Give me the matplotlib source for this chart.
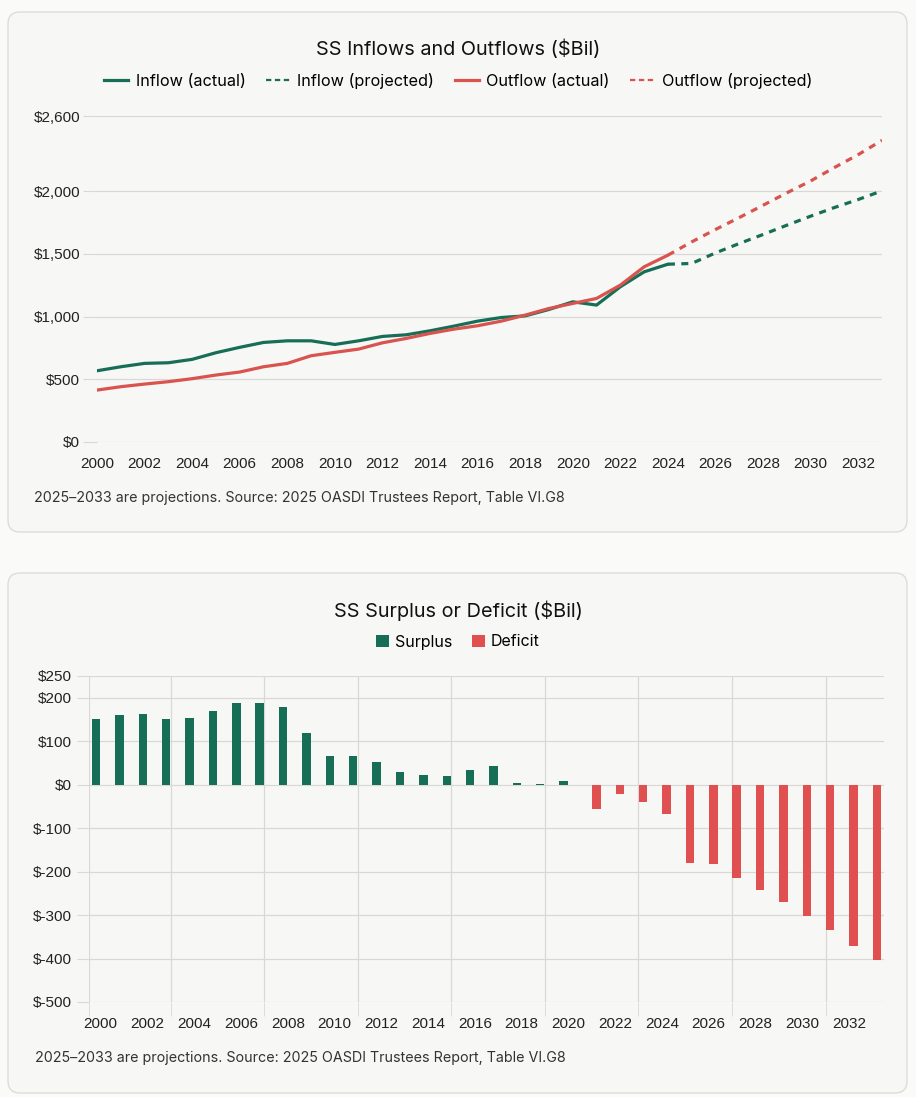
import numpy as np
import matplotlib
matplotlib.use("Agg")
import matplotlib.pyplot as plt
from matplotlib.patches import FancyBboxPatch, Patch
from matplotlib.lines import Line2D
from matplotlib.transforms import IdentityTransform
from matplotlib.ticker import FuncFormatter

# ---- data (in $ billions) ----
years_actual = list(range(2000, 2025))
inflow_actual = [568, 600, 627, 632, 659, 712, 755, 794, 807, 807, 778, 807, 842,
                 855, 887, 924, 964, 993, 1006, 1057, 1118, 1092, 1238, 1357, 1418]
outflow_actual = [414, 441, 462, 481, 505, 534, 558, 600, 627, 688, 715, 741, 791,
                  826, 866, 900, 927, 964, 1012, 1065, 1105, 1145, 1251, 1397, 1490]

years_proj = list(range(2024, 2034))
inflow_proj = [1418, 1424, 1508, 1583, 1655, 1729, 1801, 1870, 1934, 2003]
outflow_proj = [1490, 1596, 1695, 1790, 1888, 1987, 2082, 2189, 2292, 2406]

bar_years = list(range(2000, 2034))
surplus = [151, 160, 163, 151, 154, 170, 187, 187, 178, 120, 66, 66, 51, 30, 23, 21,
           34, 43, 3, 2, 9] + [None] * 13
deficit = [None] * 21 + [-56, -22, -41, -67, -180, -183, -215, -242, -269, -302,
                         -335, -372, -404]

line_yticks = [0, 500, 1000, 1500, 2000, 2600]
bar_yticks = [-500, -400, -300, -200, -100, 0, 100, 200, 250]
footnote = "2025\u20132033 are projections. Source: 2025 OASDI Trustees Report, Table VI.G8"

# ---- style ----
GREEN = "#176e56"
RED = "#e05050"
RED_LINE = "#d9534f"
GRID = "#d8d8d6"
CARD = "#f7f7f5"
PAGE = "#fafaf9"
TXT = "#222222"
TICK_SIZE = 11

W, H = 916, 1097
plt.rcParams["font.family"] = ["Liberation Sans", "DejaVu Sans"]
fig = plt.figure(figsize=(W / 100, H / 100), dpi=100, facecolor=PAGE)


def rect(left, top, right, bottom):
    return [left / W, 1 - bottom / H, (right - left) / W, (bottom - top) / H]


def card(left, top, right, bottom):
    p = FancyBboxPatch((left, H - bottom), right - left, bottom - top,
                       boxstyle="round,pad=0,rounding_size=12",
                       transform=IdentityTransform(), facecolor=CARD,
                       edgecolor="#dcdcda", linewidth=1.0, zorder=-5)
    fig.patches.append(p)


def money(v, pos=None):
    if v < 0:
        return "$-{:,.0f}".format(-v)
    return "${:,.0f}".format(v)


card(8, 12, 907, 532)
card(8, 573, 907, 1093)

ui = ["Inter", "DejaVu Sans"]

# ---- top chart: inflows / outflows ----
ax1 = fig.add_axes(rect(97, 116, 882, 442))
ax1.set_facecolor(CARD)
ax1.plot(years_actual, inflow_actual, color=GREEN, lw=2.3, solid_capstyle="round")
ax1.plot(years_proj, inflow_proj, color=GREEN, lw=2.3, ls=(0, (2.2, 2.0)))
ax1.plot(years_actual, outflow_actual, color=RED_LINE, lw=2.3, solid_capstyle="round")
ax1.plot(years_proj, outflow_proj, color=RED_LINE, lw=2.3, ls=(0, (2.2, 2.0)))

ax1.set_xlim(2000, 2033)
ax1.set_ylim(0, 2600)
ax1.set_yticks(line_yticks)
ax1.yaxis.set_major_formatter(FuncFormatter(money))
ax1.set_xticks(range(2000, 2033, 2))
ax1.set_xticks(range(2000, 2033, 4), minor=True)
ax1.tick_params(axis="x", which="major", length=0, pad=11, labelsize=TICK_SIZE, labelcolor=TXT)
ax1.tick_params(axis="x", which="minor", length=0)
ax1.tick_params(axis="y", length=10, color=GRID, pad=2, labelsize=TICK_SIZE, labelcolor=TXT)
ax1.grid(axis="y", color=GRID, lw=0.9)
ax1.grid(axis="x", which="minor", color=GRID, lw=0.9)
for s in ax1.spines.values():
    s.set_visible(False)

fig.text(458 / W, 1 - 49 / H, "SS Inflows and Outflows ($Bil)", ha="center", va="center",
         fontsize=14.3, color="#111111", family=ui)
h1 = [Line2D([], [], color=GREEN, lw=2.3),
      Line2D([], [], color=GREEN, lw=1.6, ls=(0, (2.4, 1.6))),
      Line2D([], [], color=RED_LINE, lw=2.3),
      Line2D([], [], color=RED_LINE, lw=1.6, ls=(0, (2.4, 1.6)))]
fig.legend(h1, ["Inflow (actual)", "Inflow (projected)", "Outflow (actual)", "Outflow (projected)"],
           loc="center", bbox_to_anchor=(458 / W, 1 - 81 / H), ncol=4, frameon=False,
           handlelength=1.5, handletextpad=0.45, columnspacing=1.25,
           prop={"family": ui, "size": 11.7})
fig.text(34 / W, 1 - 498 / H, footnote, ha="left", va="center", fontsize=10.3,
         color="#333333", family=ui)

# ---- bottom chart: surplus / deficit ----
ax2 = fig.add_axes(rect(89, 676, 884, 1002))
ax2.set_facecolor(CARD)
x = np.arange(len(bar_years))
s_vals = np.array([np.nan if v is None else v for v in surplus], dtype=float)
d_vals = np.array([np.nan if v is None else v for v in deficit], dtype=float)
ax2.bar(x - 0.2, s_vals, width=0.36, color=GREEN, zorder=3)
ax2.bar(x + 0.2, d_vals, width=0.36, color=RED, zorder=3)

ax2.set_xlim(-0.5, len(bar_years) - 0.5)
ax2.set_ylim(-500, 250)
ax2.set_yticks(bar_yticks)
ax2.yaxis.set_major_formatter(FuncFormatter(money))
ax2.set_xticks(x[::2])
ax2.set_xticklabels([str(y) for y in bar_years[::2]])
ax2.set_xticks([-0.5] + list(range(3, 34, 4)), minor=True)
ax2.tick_params(axis="x", which="major", length=0, pad=11, labelsize=TICK_SIZE, labelcolor=TXT)
ax2.tick_params(axis="x", which="minor", length=10, color=GRID)
ax2.tick_params(axis="y", length=9, color=GRID, pad=3, labelsize=TICK_SIZE, labelcolor=TXT)
ax2.grid(axis="y", color=GRID, lw=0.9, zorder=0)
ax2.grid(axis="x", which="minor", color=GRID, lw=0.9, zorder=0)
ax2.set_axisbelow(True)
for s in ax2.spines.values():
    s.set_visible(False)

fig.text(458 / W, 1 - 611 / H, "SS Surplus or Deficit ($Bil)", ha="center", va="center",
         fontsize=14.3, color="#111111", family=ui)
h2 = [Patch(facecolor=GREEN), Patch(facecolor=RED)]
fig.legend(h2, ["Surplus", "Deficit"], loc="center", bbox_to_anchor=(458 / W, 1 - 642 / H),
           ncol=2, frameon=False, handlelength=0.8, handleheight=0.8, handletextpad=0.4,
           columnspacing=1.2, prop={"family": ui, "size": 11.5})
fig.text(35 / W, 1 - 1058 / H, footnote, ha="left", va="center", fontsize=10.3,
         color="#333333", family=ui)

fig.savefig("out.png", dpi=100, facecolor=PAGE)
